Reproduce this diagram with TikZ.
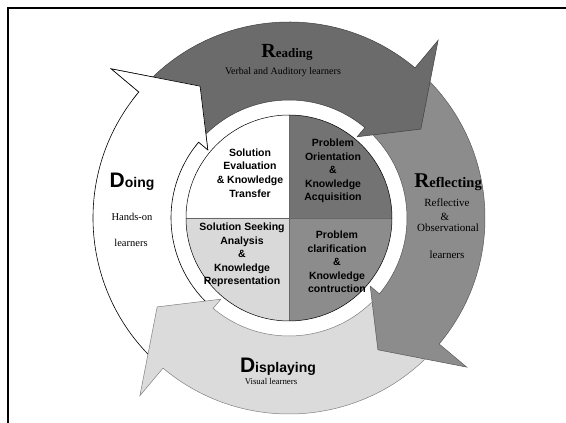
\documentclass[tikz,border=0pt]{standalone}
\usepackage{fontspec}
\setmainfont{Liberation Serif}
\setsansfont{Liberation Sans}
\tikzset{
  readfill/.style={fill=black!58, draw=black!75, line width=0.5pt},
  reflfill/.style={fill=black!45, draw=black!65, line width=0.5pt},
  dispfill/.style={fill=black!14, draw=black!50, line width=0.5pt},
  doingfill/.style={fill=white, draw=black, line width=0.6pt},
  pietext/.style={align=center, font=\sffamily\bfseries\fontsize{10.5}{13.6}\selectfont, inner sep=0pt},
  smalltext/.style={align=center, font=\fontsize{10}{12}\selectfont, inner sep=0pt}
}
\newcommand\arrowshape[2]{%
  (#1:196pt) arc[start angle=#1, end angle=#2, radius=196pt]
  -- (#2:232pt) -- ({#2-16}:159pt) -- (#2:106pt) -- (#2:118pt)
  arc[start angle=#2, end angle=#1, radius=118pt] -- cycle}
\begin{document}
\begin{tikzpicture}[x=1pt,y=1pt]
\useasboundingbox (0,0) rectangle (566,423);
% frame
\draw[line width=1.6pt] (8,0) -- (8,415) -- (566,415);
\begin{scope}[shift={(289,205)}]
  % outer cycle arrows
  \draw[doingfill] \arrowshape{230}{140};
  \draw[dispfill] \arrowshape{-40}{-130};
  \draw[reflfill] \arrowshape{50}{-40};
  \draw[readfill] \arrowshape{140}{50};
  % Doing head over Reading tail
  \fill[white] (143:196pt) arc[start angle=143, end angle=140, radius=196pt]
    -- (140:232pt) -- (124:159pt) -- (140:106pt) -- (140:118pt)
    arc[start angle=140, end angle=143, radius=118pt] -- cycle;
  \draw[black, line width=0.6pt] (143:196pt) arc[start angle=143, end angle=140, radius=196pt]
    -- (140:232pt) -- (124:159pt) -- (140:106pt) -- (140:118pt)
    arc[start angle=140, end angle=143, radius=118pt];
  % inner pie
  \fill[white] (0,0) -- (90:103pt) arc[start angle=90, end angle=180, radius=103pt] -- cycle;
  \fill[black!55] (0,0) -- (0:103pt) arc[start angle=0, end angle=90, radius=103pt] -- cycle;
  \fill[black!15] (0,0) -- (180:103pt) arc[start angle=180, end angle=270, radius=103pt] -- cycle;
  \fill[black!45] (0,0) -- (270:103pt) arc[start angle=270, end angle=360, radius=103pt] -- cycle;
  \draw[black!60, line width=0.4pt] (90:103pt) -- (270:103pt) (180:103pt) -- (0:103pt);
  \draw[black, line width=0.5pt] (0,0) circle[radius=103pt];
\end{scope}
% pie texts
\node[pietext] (q1) at (250,250) {Solution\\Evaluation\\\& Knowledge\\Transfer};
\node[pietext] (q2) at (333,252) {Problem\\Orientation\\\&\\Knowledge\\Acquisition};
\node[pietext] (q3) at (242,168) {Solution Seeking\\Analysis\\\&\\Knowledge\\Representation};
\node[pietext] (q4) at (337,161) {Problem\\clarification\\\&\\Knowledge\\contruction};
% arrow labels
\node[inner sep=0pt] (tread) at (287,371) {\bfseries{\fontsize{20}{20}\selectfont R}{\fontsize{13}{13}\selectfont eading}};
\node[smalltext] (sread) at (283,351) {Verbal and Auditory learners};
\node[inner sep=0pt] (trefl) at (448,241) {\bfseries{\fontsize{21}{21}\selectfont R}{\fontsize{14.5}{14.5}\selectfont eflecting}};
\node[smalltext, font=\fontsize{11}{12}\selectfont] (srefl1) at (447,220) {Reflective};
\node[smalltext, font=\fontsize{11}{12}\selectfont] (srefl2) at (445,206) {\&};
\node[smalltext, font=\fontsize{11}{12}\selectfont] (srefl3) at (448,195) {Observational};
\node[smalltext, font=\fontsize{11}{12}\selectfont] (srefl4) at (447,168) {learners};
\node[inner sep=0pt] (tdoing) at (132,241) {\sffamily\bfseries{\fontsize{21}{21}\selectfont D}{\fontsize{14}{14}\selectfont oing}};
\node[smalltext, font=\fontsize{10.5}{12}\selectfont] (sdoing1) at (132,206) {Hands-on};
\node[smalltext, font=\fontsize{10.5}{12}\selectfont] (sdoing2) at (131,180) {learners};
\node[inner sep=0pt] (tdisp) at (278,56) {\sffamily\bfseries{\fontsize{21}{21}\selectfont D}{\fontsize{14}{14}\selectfont isplaying}};
\node[smalltext, font=\fontsize{8.8}{10}\selectfont] (sdisp) at (271,41) {Visual learners};
\end{tikzpicture}
\end{document}
